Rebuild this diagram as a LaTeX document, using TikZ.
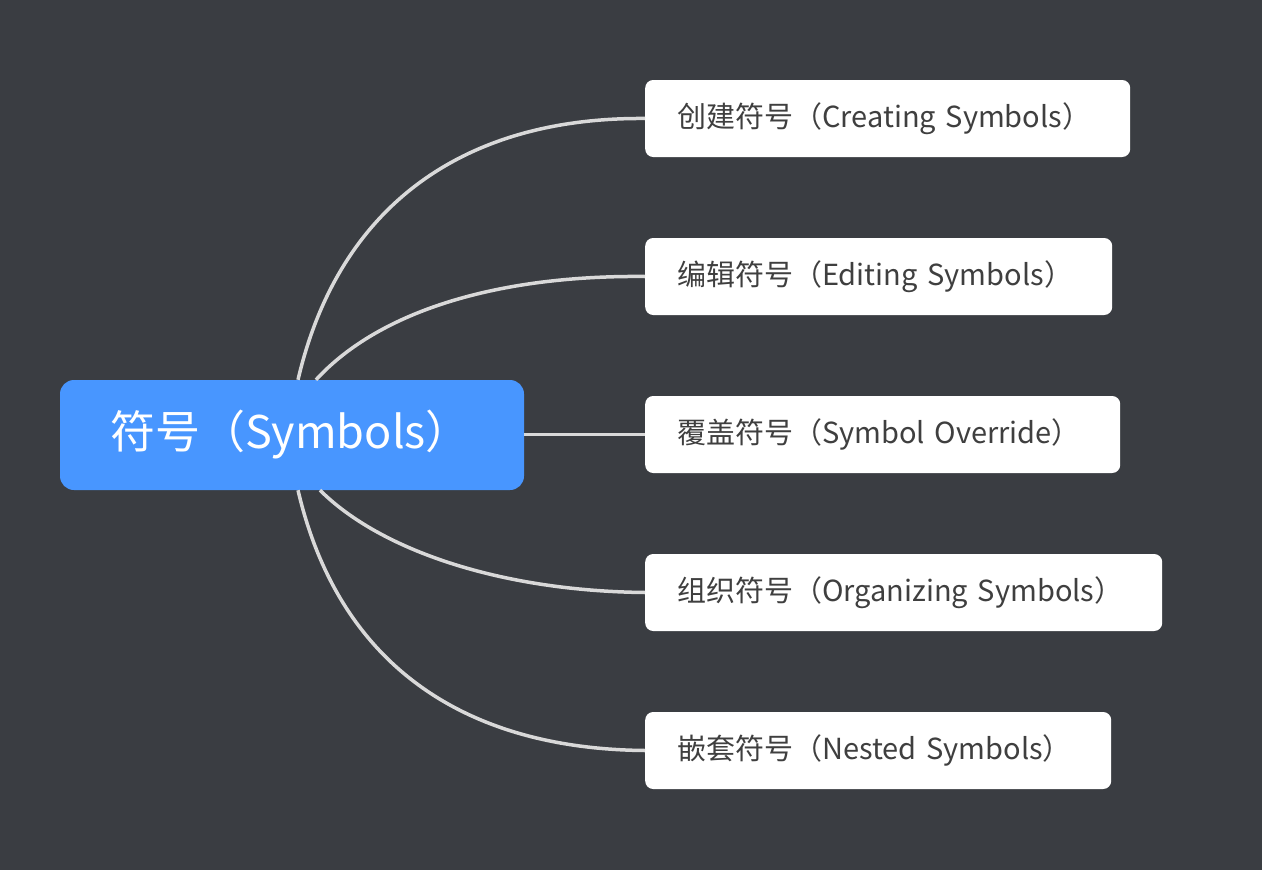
\documentclass[tikz,border=0pt]{standalone}
\usepackage{fontspec}
\setmainfont{Noto Sans CJK SC}
\usepackage{tikz}
\definecolor{fond}{HTML}{3A3D42}
\definecolor{bleu}{HTML}{4896FF}
\definecolor{trait}{HTML}{D9D9D9}
\definecolor{texte}{HTML}{3F3F3F}

\begin{document}
\begin{tikzpicture}[x=1pt, y=-1pt,
    racine/.style={fill=bleu, rounded corners=14pt, minimum width=464pt, minimum height=110pt,
        text=white, font=\fontsize{45}{50}\selectfont, inner xsep=50pt, align=left, text width=364pt},
    feuille/.style={fill=white, rounded corners=8pt, minimum height=77pt, anchor=west,
        text=texte, font=\fontsize{29}{35}\selectfont, inner xsep=32pt, align=left, text width=#1},
    lien/.style={draw=trait, line width=3.5pt}]
% fond
\fill[fond] (0,0) rectangle (1262,870);
\useasboundingbox (0,0) rectangle (1262,870);

    \node[racine] (root) at (292,435) {\mbox{符号（Symbols）}};

    \node[feuille=421pt] (c1) at (645,118.5) {\mbox{创建符号（Creating Symbols）}};
    \node[feuille=403pt] (c2) at (645,276.5) {\mbox{编辑符号（Editing Symbols）}};
    \node[feuille=411pt] (c3) at (645,434.5) {\mbox{覆盖符号（Symbol Override）}};
    \node[feuille=453pt] (c4) at (645,592.5) {\mbox{组织符号（Organizing Symbols）}};
    \node[feuille=402pt] (c5) at (645,750.5) {\mbox{嵌套符号（Nested Symbols）}};

% liens
    \draw[lien] ([xshift=6pt]root.north) .. controls (340,200) and (470,117) .. (c1.west);
    \draw[lien] ([xshift=24pt]root.north) .. controls (380,310) and (500,275) .. (c2.west);
    \draw[lien] (root.east |- c3.west) -- (c3.west);
    \draw[lien] ([xshift=28pt]root.south) .. controls (380,550) and (500,591) .. (c4.west);
    \draw[lien] ([xshift=6pt]root.south) .. controls (340,670) and (470,749) .. (c5.west);

\end{tikzpicture}
\end{document}
